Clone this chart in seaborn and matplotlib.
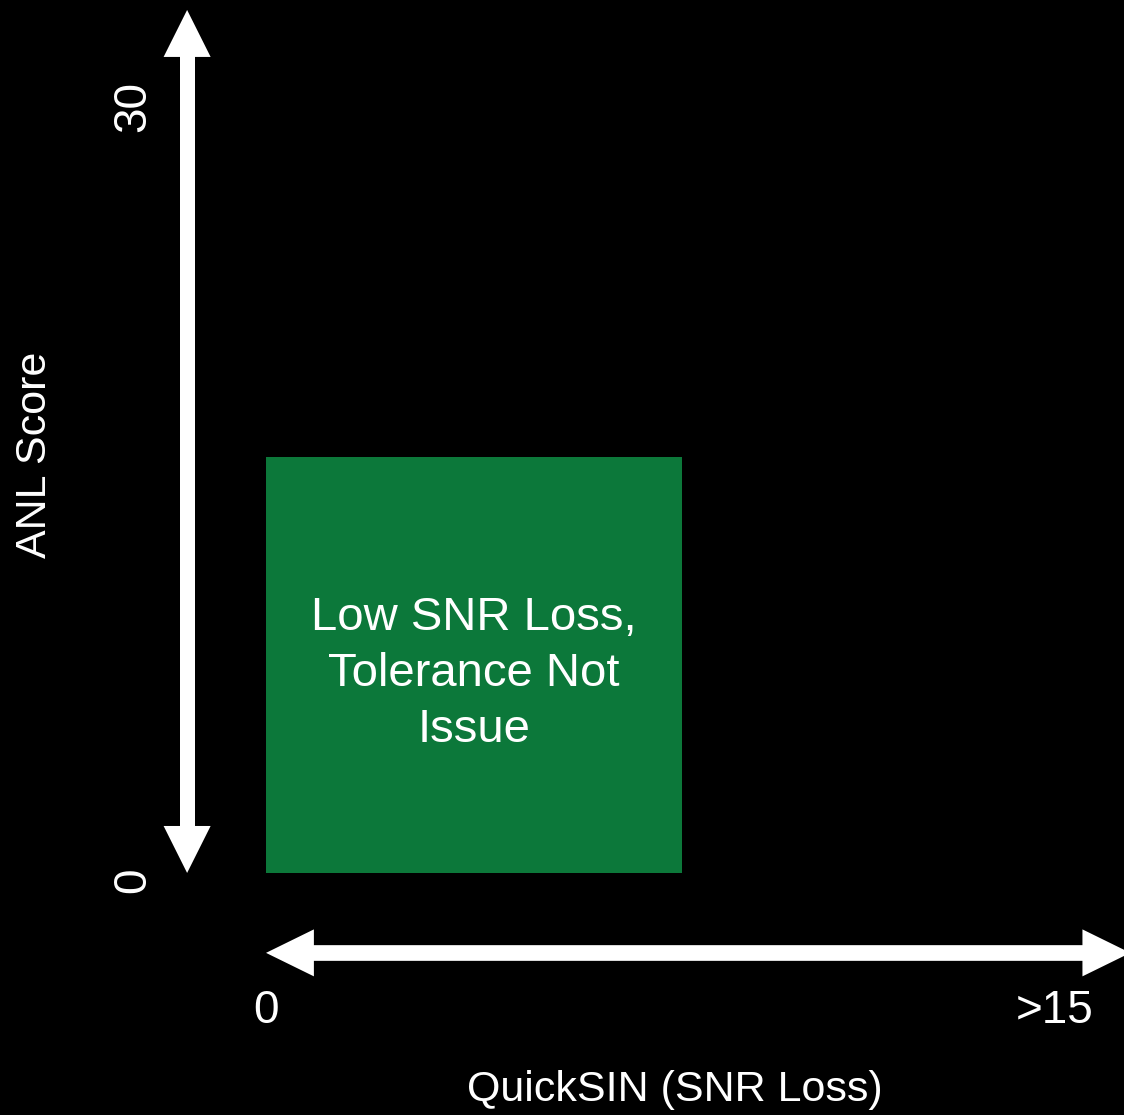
import matplotlib
matplotlib.use("Agg")
import matplotlib.pyplot as plt
import seaborn as sns

# ---- data ----
x_ticks = [0, 15]
x_tick_labels = ["0", ">15"]
y_ticks = [0, 30]
y_tick_labels = ["0", "30"]
x_label = "QuickSIN (SNR Loss)"
y_label = "ANL Score"
zone_x = [0, 7.9]      # QuickSIN range of the zone
zone_y = [0, 16.3]     # ANL range of the zone
zone_label = "Low SNR Loss,\nTolerance Not\nIssue"

sns.set_theme(style="dark")
plt.rcParams["font.family"] = ["Liberation Sans", "DejaVu Sans"]

fig = plt.figure(figsize=(11.24, 11.15), dpi=100, facecolor="black")
ax = fig.add_axes([0, 0, 1, 1])
ax.set_facecolor("black")
ax.set_xlim(-5.057, 16.31)
ax.set_ylim(-9.48, 34.19)
ax.axis("off")

# zone box
ax.bar(zone_x[0], zone_y[1] - zone_y[0], width=zone_x[1] - zone_x[0],
       bottom=zone_y[0], align="edge", color="#0c783a", linewidth=0)
ax.text((zone_x[0] + zone_x[1]) / 2, (zone_y[0] + zone_y[1]) / 2 - 0.35, zone_label,
        color="white", fontsize=34, ha="center", va="center", linespacing=1.36)

# axis arrows: one shaft line + two filled heads each
wc = "white"
# vertical
vx = -1.50
ybot, ytop = y_ticks[0], 33.8
vhl = 1.84
ax.plot([vx, vx], [ybot + vhl / 2, ytop - vhl / 2], color=wc, lw=10.8,
        solid_capstyle="butt")
ax.arrow(vx, ytop - vhl, 0, vhl, width=0, head_width=0.894, head_length=vhl,
         length_includes_head=True, color=wc, linewidth=0)
ax.arrow(vx, ybot + vhl, 0, -vhl, width=0, head_width=0.894, head_length=vhl,
         length_includes_head=True, color=wc, linewidth=0)
# horizontal
hy = -3.13
xleft, xright = x_ticks[0], 16.43
hhl = 0.91
ax.plot([xleft + hhl / 2, xright - hhl / 2], [hy, hy], color=wc, lw=11.3,
        solid_capstyle="butt")
ax.arrow(xright - hhl, hy, hhl, 0, width=0, head_width=1.84, head_length=hhl,
         length_includes_head=True, color=wc, linewidth=0)
ax.arrow(xleft + hhl, hy, -hhl, 0, width=0, head_width=1.84, head_length=hhl,
         length_includes_head=True, color=wc, linewidth=0)

# tick labels
for v, lab in zip(x_ticks, x_tick_labels):
    ax.text(v, -5.40, lab, color="white", fontsize=33, ha="center", va="center")
y_label_offsets = [-0.3, 0.0]
for v, lab, off in zip(y_ticks, y_tick_labels, y_label_offsets):
    ax.text(-2.53, v + off, lab, color="white", fontsize=33, ha="center", va="center",
            rotation=90)

# axis labels
ax.text(7.78, -8.5, x_label, color="white", fontsize=31, ha="center", va="center")
ax.text(-4.39, 16.37, y_label, color="white", fontsize=31, ha="center", va="center",
        rotation=90)

fig.savefig("out.png", dpi=100, facecolor="black")
